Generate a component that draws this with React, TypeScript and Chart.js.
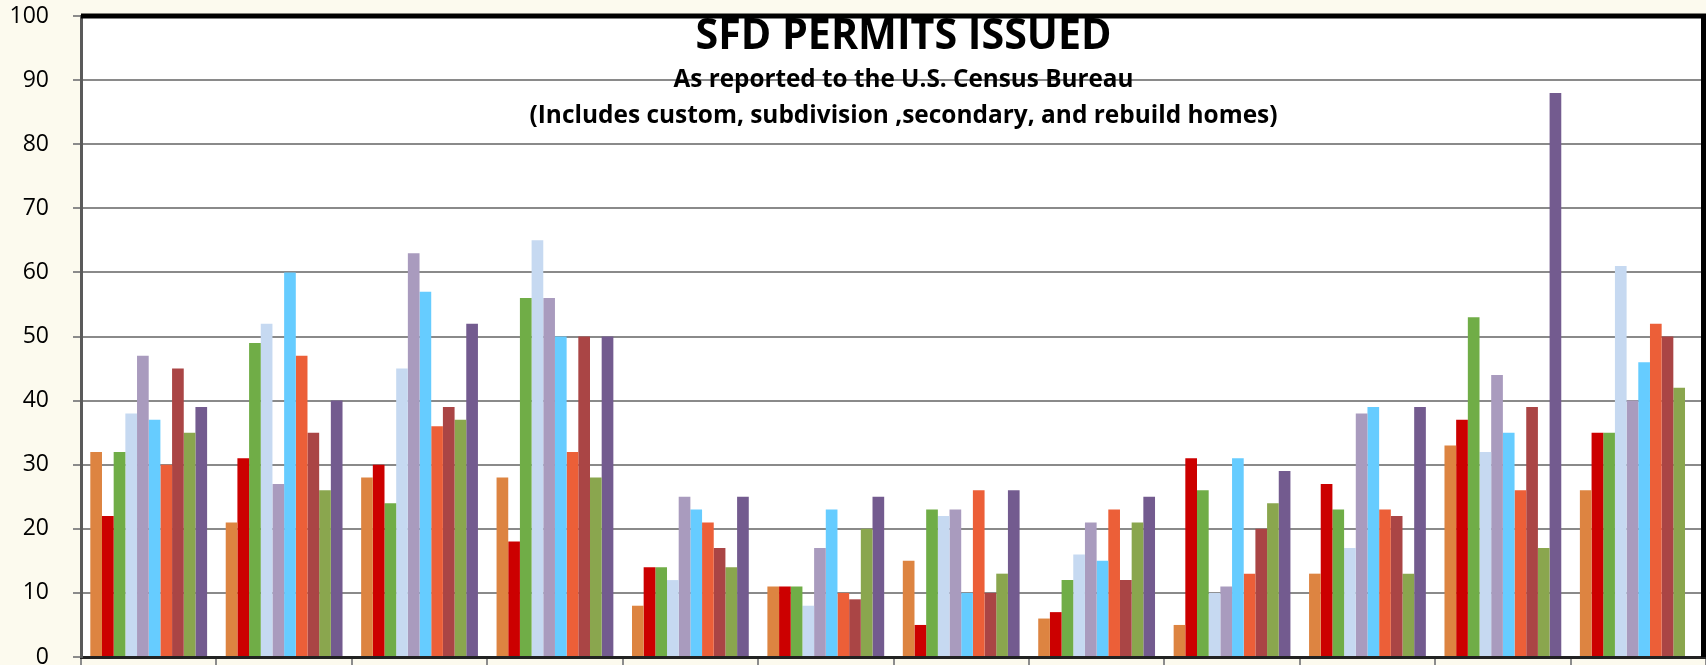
import React, { useEffect, useRef } from "react";
import { Chart, registerables } from "chart.js";

Chart.register(...registerables);

const categories = ["Jan", "Feb", "Mar", "Apr", "May", "Jun", "Jul", "Aug", "Sep", "Oct", "Nov", "Dec"];

const seriesNames = ["Series 1", "Series 2", "Series 3", "Series 4", "Series 5", "Series 6", "Series 7", "Series 8", "Series 9", "Series 10"];

const s1 = [32, 21, 28, 28, 8, 11, 15, 6, 5, 13, 33, 26];
const s2 = [22, 31, 30, 18, 14, 11, 5, 7, 31, 27, 37, 35];
const s3 = [32, 49, 24, 56, 14, 11, 23, 12, 26, 23, 53, 35];
const s4 = [38, 52, 45, 65, 12, 8, 22, 16, 10, 17, 32, 61];
const s5 = [47, 27, 63, 56, 25, 17, 23, 21, 11, 38, 44, 40];
const s6 = [37, 60, 57, 50, 23, 23, 10, 15, 31, 39, 35, 46];
const s7 = [30, 47, 36, 32, 21, 10, 26, 23, 13, 23, 26, 52];
const s8 = [45, 35, 39, 50, 17, 9, 10, 12, 20, 22, 39, 50];
const s9 = [35, 26, 37, 28, 14, 20, 13, 21, 24, 13, 17, 42];
const s10 = [39, 40, 52, 50, 25, 25, 26, 25, 29, 39, 88, null];

const seriesValues = [s1, s2, s3, s4, s5, s6, s7, s8, s9, s10];

const seriesColors = [
  "#DD8441",
  "#CC0000",
  "#70AD47",
  "#C6D9F1",
  "#A99BBE",
  "#66CCFF",
  "#EC5F38",
  "#AA4545",
  "#8AA64E",
  "#735B8F",
];

const yTicks = [0, 10, 20, 30, 40, 50, 60, 70, 80, 90, 100];

const titleText = "SFD PERMITS ISSUED";
const subtitle1 = "As reported to the U.S. Census Bureau";
const subtitle2 = "(Includes custom, subdivision ,secondary, and rebuild homes)";

const W = 1706;
const H = 665;

const decorPlugin = {
  id: "decor",
  beforeDraw(chart: any) {
    const { ctx, chartArea } = chart;
    ctx.save();
    ctx.fillStyle = "#FCFAEE";
    ctx.fillRect(0, 0, chart.width, chart.height);
    ctx.fillStyle = "#FFFFFF";
    ctx.fillRect(chartArea.left, chartArea.top, chartArea.right - chartArea.left, chartArea.bottom - chartArea.top);
    ctx.restore();
  },
  afterDraw(chart: any) {
    const { ctx, chartArea } = chart;
    const cx = (chartArea.left + chartArea.right) / 2 + 10;
    ctx.save();
    ctx.fillStyle = "#000000";
    ctx.textAlign = "center";
    ctx.textBaseline = "alphabetic";
    ctx.font = 'bold 43px "Open Sans"';
    ctx.fillText(titleText, cx, chartArea.top + 33, 416);
    ctx.font = 'bold 24.5px "Open Sans"';
    ctx.fillText(subtitle1, cx, chartArea.top + 71, 460);
    ctx.fillText(subtitle2, cx, chartArea.top + 107, 748);
    // plot border: thick black top and right
    ctx.strokeStyle = "#000000";
    ctx.lineWidth = 5;
    ctx.beginPath();
    ctx.moveTo(chartArea.left, chartArea.top);
    ctx.lineTo(chartArea.right - 2.5, chartArea.top);
    ctx.lineTo(chartArea.right - 2.5, chartArea.bottom);
    ctx.stroke();
    ctx.restore();
  },
};

export default function App() {
  const ref = useRef<HTMLCanvasElement | null>(null);

  useEffect(() => {
    if (!ref.current) return;
    const chart = new Chart(ref.current, {
      type: "bar",
      data: {
        labels: categories,
        datasets: seriesValues.map((vals, i) => ({
          label: seriesNames[i],
          data: vals,
          backgroundColor: seriesColors[i],
          borderWidth: 0,
          categoryPercentage: 0.8625,
          barPercentage: 1.0,
        })),
      },
      options: {
        responsive: false,
        animation: false,
        devicePixelRatio: 1,
        layout: { padding: { top: 16, right: 0, bottom: 0, left: 0 } },
        plugins: {
          legend: { display: false },
          title: { display: false },
          tooltip: { enabled: false },
        },
        scales: {
          x: {
            offset: true,
            grid: {
              offset: true,
              drawOnChartArea: false,
              drawTicks: true,
              tickLength: 8,
              color: "#8C8C8C",
              lineWidth: 2,
            },
            border: { display: true, color: "#222222", width: 3 },
            ticks: { display: false },
            afterFit: (scale: any) => {
              scale.height = 8;
              scale.paddingLeft = 0;
              scale.paddingRight = 0;
            },
          },
          y: {
            min: 0,
            max: 100,
            afterBuildTicks: (scale: any) => {
              scale.ticks = yTicks.map((v) => ({ value: v }));
            },
            afterFit: (scale: any) => {
              scale.width = 81;
              scale.paddingTop = 0;
              scale.paddingBottom = 0;
            },
            grid: {
              color: "#8A8A8A",
              lineWidth: 2,
              tickLength: 8,
              drawTicks: true,
            },
            border: { display: true, color: "#5A5A5A", width: 3 },
            ticks: {
              color: "#000000",
              padding: 24,
              font: { family: '"Open Sans", sans-serif', size: 23 },
            },
          },
        },
      },
      plugins: [decorPlugin],
    });
    return () => chart.destroy();
  }, []);

  return (
    <div style={{ position: "fixed", left: 0, top: 0, width: W, height: H, overflow: "hidden" }}>
      <canvas ref={ref} width={W} height={H} style={{ width: W, height: H, display: "block" }} />
    </div>
  );
}
